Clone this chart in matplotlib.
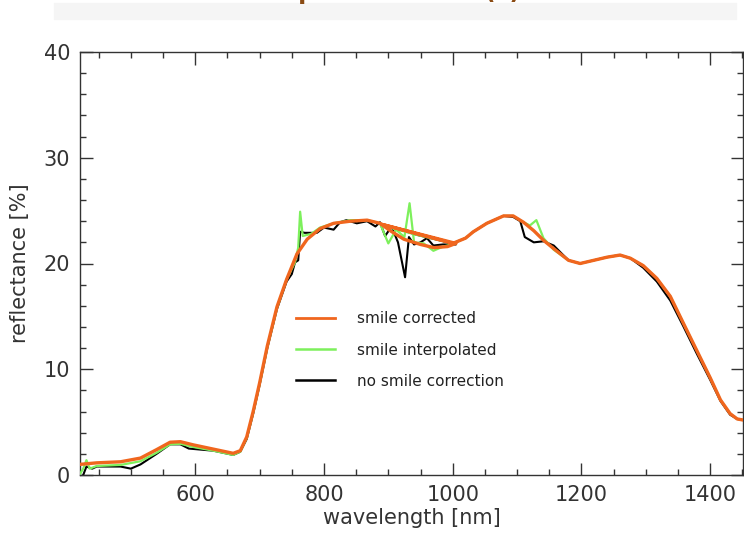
import numpy as np
import matplotlib
matplotlib.use('Agg')
import matplotlib.pyplot as plt
from matplotlib.patches import Rectangle
from matplotlib.lines import Line2D

# Espectros: VNIR y SWIR concatenados (se solapan entre ~890 y ~1005 nm)
wl_corr = [420, 447, 484, 515, 540, 561, 577, 597, 628, 659, 670, 680, 690, 700,
           712, 727, 742, 758, 774, 794, 815, 841, 867, 887, 903, 924, 950, 971,
           992, 1005,
           890, 945, 1000, 1020, 1032, 1053, 1079, 1094, 1110, 1126, 1141, 1157,
           1180, 1198, 1219, 1240, 1260, 1276, 1296, 1317, 1338, 1358, 1379,
           1400, 1416, 1431, 1442, 1451]
refl_corr = [1.0, 1.15, 1.25, 1.6, 2.4, 3.1, 3.15, 2.85, 2.45, 2.05, 2.3, 3.6,
             6.0, 8.7, 12.2, 15.9, 18.5, 20.9, 22.3, 23.3, 23.8, 24.0, 24.1,
             23.8, 23.1, 22.3, 21.8, 21.5, 21.6, 21.9,
             23.7, 22.8, 21.9, 22.4, 23.0, 23.8, 24.5, 24.5, 23.9, 23.1, 22.2,
             21.4, 20.3, 20.0, 20.3, 20.6, 20.8, 20.5, 19.8, 18.6, 16.9, 14.4,
             11.8, 9.2, 7.1, 5.8, 5.3, 5.2]

wl_interp = [420, 426, 431, 436, 447, 484, 515, 540, 561, 577, 597, 628, 659,
             670, 680, 690, 700, 712, 727, 742, 755, 760, 763, 767, 780, 794,
             815, 841, 867, 887, 900, 912, 925, 933, 940, 955, 970, 985, 1005,
             890, 945, 1000, 1020, 1032, 1053, 1079, 1094, 1110, 1120, 1130,
             1141, 1157, 1180, 1198, 1219, 1240, 1260, 1276, 1296, 1317, 1338,
             1358, 1379, 1400, 1416, 1431, 1442, 1451]
refl_interp = [0.0, 0.6, 1.4, 0.6, 0.85, 0.95, 1.3, 2.1, 2.9, 2.95, 2.65, 2.3,
               1.9, 2.2, 3.5, 5.9, 8.6, 12.1, 15.8, 18.5, 20.1, 21.5, 24.9,
               22.6, 22.8, 23.4, 23.8, 24.1, 24.1, 23.8, 21.9, 23.2, 22.5, 25.7,
               22.0, 21.9, 21.2, 21.6, 21.9,
               23.6, 22.7, 21.9, 22.4, 23.0, 23.8, 24.5, 24.5, 23.9, 23.6, 24.1,
               22.4, 21.3, 20.3, 20.0, 20.3, 20.6, 20.8, 20.5, 19.8, 18.6, 16.9,
               14.4, 11.8, 9.2, 7.1, 5.8, 5.3, 5.2]

wl_raw = [420, 426, 431, 440, 447, 484, 500, 515, 540, 561, 577, 590, 628, 659,
          670, 680, 690, 700, 712, 727, 742, 750, 755, 760, 763, 770, 789, 800,
          815, 825, 835, 851, 867, 880, 887, 895, 905, 915, 926, 932, 940, 950,
          960, 970, 985, 1005,
          890, 945, 1000, 1020, 1032, 1053, 1079, 1094, 1105, 1112, 1126, 1141,
          1157, 1170, 1180, 1198, 1219, 1240, 1260, 1276, 1296, 1317, 1338,
          1358, 1379, 1400, 1416, 1431, 1442, 1451]
refl_raw = [-0.4, 0.0, 0.8, 0.6, 0.8, 0.8, 0.6, 1.0, 2.0, 2.9, 2.9, 2.5, 2.3,
            1.9, 2.2, 3.4, 5.8, 8.5, 12.0, 15.7, 18.3, 19.0, 20.1, 20.3, 23.0,
            22.9, 22.9, 23.4, 23.2, 23.9, 24.1, 23.8, 24.0, 23.5, 23.9, 22.6,
            23.5, 22.0, 18.7, 22.5, 21.8, 22.0, 22.4, 21.7, 21.8, 21.8,
            23.7, 22.7, 21.9, 22.4, 23.0, 23.8, 24.5, 24.4, 24.0, 22.5, 22.0,
            22.1, 21.7, 20.9, 20.3, 20.0, 20.3, 20.6, 20.8, 20.5, 19.6, 18.3,
            16.5, 14.1, 11.5, 9.0, 7.0, 5.7, 5.3, 5.2]

etiquetas = ['smile corrected', 'smile interpolated', 'no smile correction']
colores = ['#f0661e', '#7df05c', '#000000']

fig = plt.figure(figsize=(7.44, 5.36), dpi=100)
ax = fig.add_axes([80/744, 1 - 475/536, 663/744, 423/536])

# Banda gris y titulo (cortado arriba, como en el original)
fig.patches.append(Rectangle((54/744, 1 - 19/536), 682/744, 16/536,
                             transform=fig.transFigure, color='#f5f5f5',
                             zorder=0))
fig.text(0.538, 1 + 1/536, 'Spectra of site (c)', ha='center', va='baseline',
         fontsize=17, fontweight='bold', color='#8a4a12')

ax.plot(wl_raw, refl_raw, color=colores[2], lw=1.5, zorder=2)
ax.plot(wl_interp, refl_interp, color=colores[1], lw=1.6, zorder=3)
ax.plot(wl_corr, refl_corr, color=colores[0], lw=2.4, zorder=4)

ax.set_xlim(421, 1451)
ax.set_ylim(0, 40)
ax.set_xticks([600, 800, 1000, 1200, 1400])
ax.set_xticks(np.arange(450, 1451, 50), minor=True)
ax.set_yticks([0, 10, 20, 30, 40])
ax.set_yticks(np.arange(0, 41, 2), minor=True)
ax.tick_params(which='both', direction='in', top=True, right=True,
               colors='#333333', labelsize=15, width=1)
ax.tick_params(which='major', length=9, pad=7)
ax.tick_params(which='minor', length=4)
for s in ax.spines.values():
    s.set_color('#333333')
    s.set_linewidth(1)

ax.set_xlabel('wavelength [nm]', fontsize=15, color='#333333', labelpad=2)
ax.set_ylabel('reflectance [%]', fontsize=15, color='#333333', labelpad=10)

handles = [Line2D([], [], color=c, lw=2 if i == 0 else 1.8)
           for i, c in enumerate(colores)]
leg = ax.legend(handles, etiquetas, loc='center left',
                bbox_to_anchor=((288 - 80)/663, (475 - 350)/423),
                frameon=False, fontsize=11, handlelength=2.6,
                handletextpad=1.4, labelspacing=1.05, borderpad=0)
for t in leg.get_texts():
    t.set_color('#222222')

plt.savefig('out.png', dpi=100, facecolor='white')
plt.close()
